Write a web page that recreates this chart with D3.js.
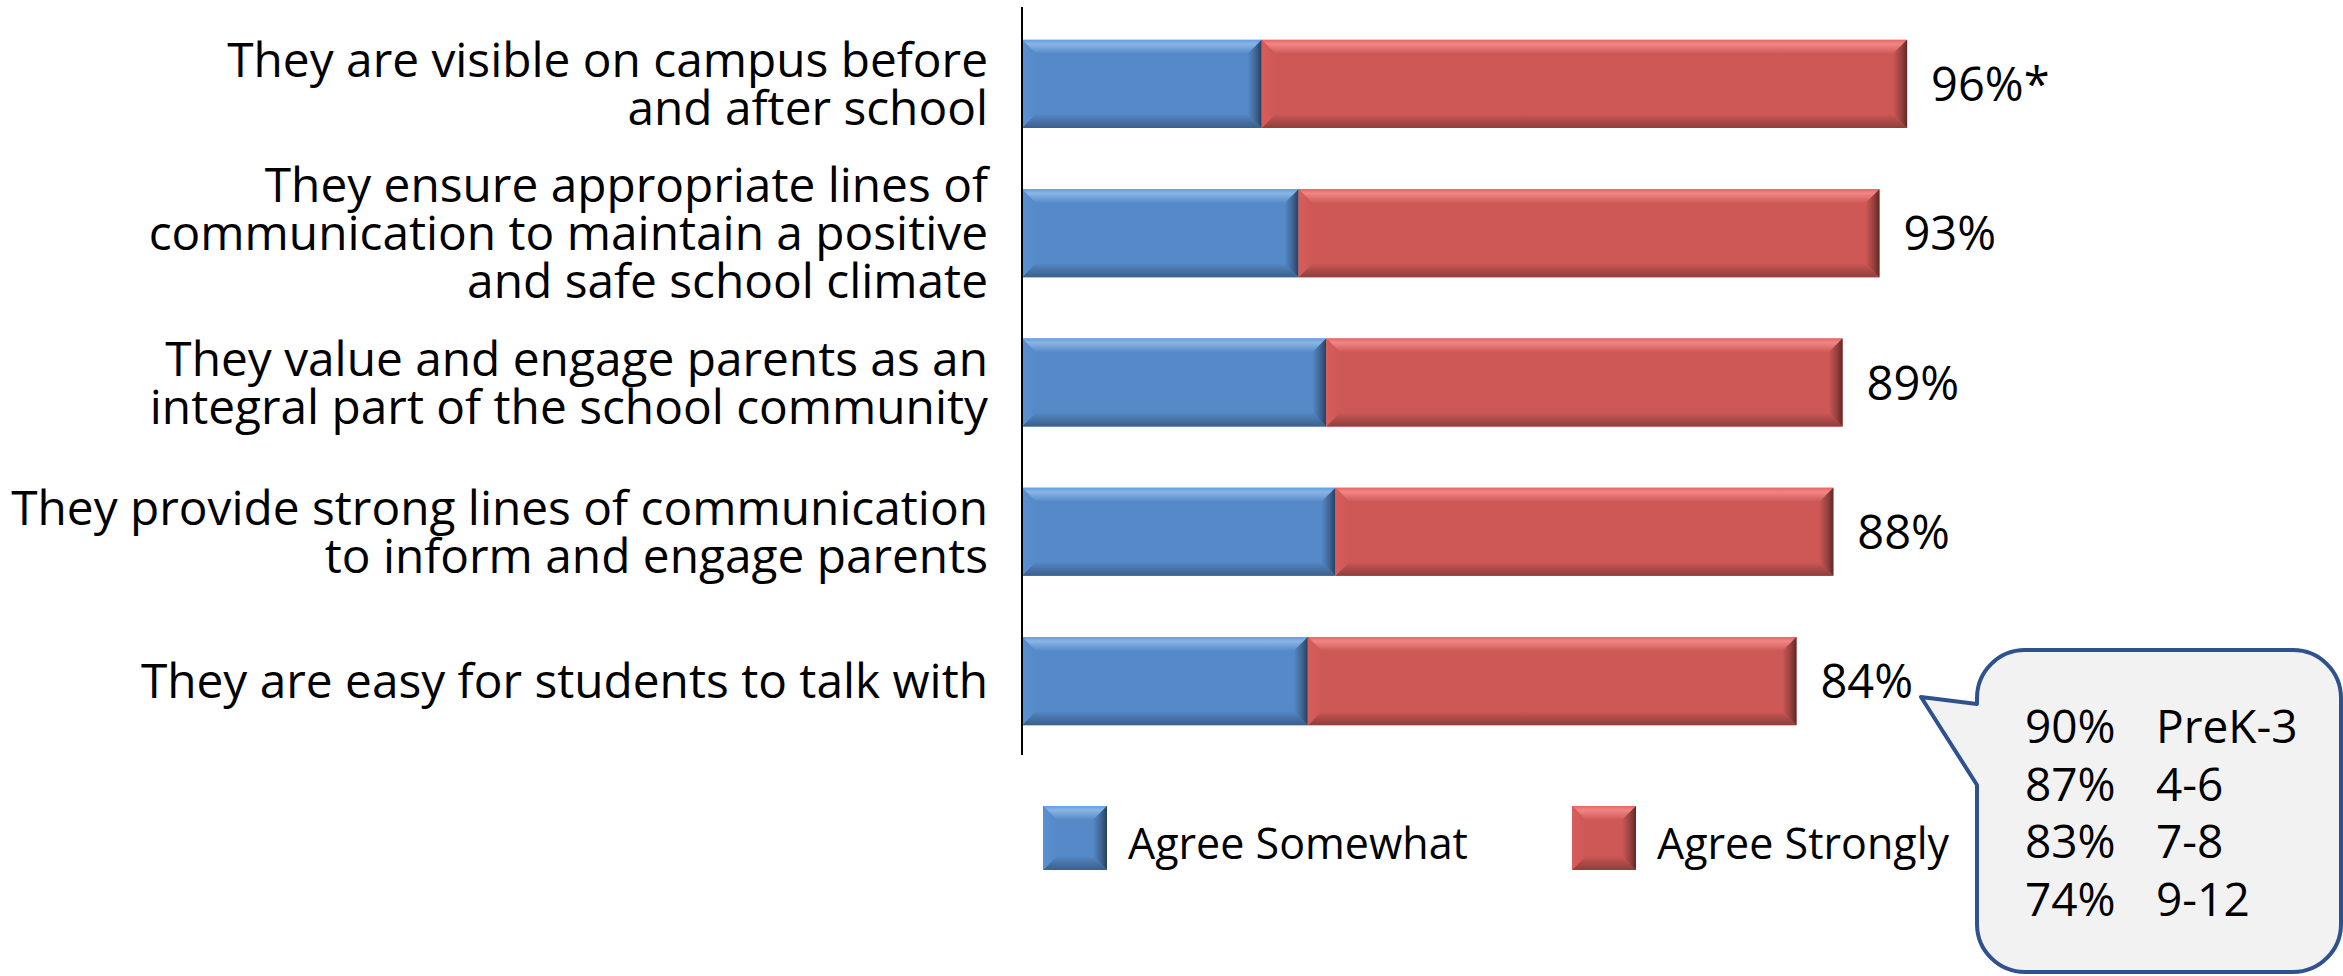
<!DOCTYPE html>
<html>
<head>
<meta charset="utf-8">
<script src="https://cdn.jsdelivr.net/npm/d3@7"></script>
<style>
  html, body { margin: 0; padding: 0; background: #ffffff; }
  svg { display: block; }
  text { font-family: "Open Sans", "Noto Sans", sans-serif; fill: #000000; }
</style>
</head>
<body>
<svg id="chart" width="2343" height="976"></svg>
<script>
// Survey statements (each entry is one label, split into its printed lines)
const categories = [
  ["They are visible on campus before", "and after school"],
  ["They ensure appropriate lines of", "communication to maintain a positive", "and safe school climate"],
  ["They value and engage parents as an", "integral part of the school community"],
  ["They provide strong lines of communication", "to inform and engage parents"],
  ["They are easy for students to talk with"]
];
// Percent of respondents in each agreement level
const agreeSomewhat = [26, 30, 33, 34, 31];
const agreeStrongly = [70, 63, 56, 54, 53];
const totalLabels = ["96%*", "93%", "89%", "88%", "84%"];
const seriesNames = ["Agree Somewhat", "Agree Strongly"];
// Breakdown of the last statement by grade band
const gradeShares = ["90%", "87%", "83%", "74%"];
const gradeBands = ["PreK-3", "4-6", "7-8", "9-12"];

const svg = d3.select("#chart");
const defs = svg.append("defs");
const keys = categories.map(d => d.join(" "));

const x = d3.scaleLinear().domain([0, 100]).range([1022, 1944]);
const y = d3.scaleBand().domain(keys).range([10, 755]).paddingInner(0.41).paddingOuter(0.2);
const color = d3.scaleOrdinal().domain(seriesNames).range(["#5589c8", "#cd5856"]);

// Bevel gradients per series colour
seriesNames.forEach((name, i) => {
  const c = d3.color(color(name));
  const mk = (id, x2, y2, stops) => {
    const g = defs.append("linearGradient").attr("id", id)
      .attr("x1", 0).attr("y1", 0).attr("x2", x2).attr("y2", y2);
    stops.forEach(s => g.append("stop").attr("offset", s[0]).attr("stop-color", s[1]));
  };
  const light = d3.interpolateRgb(c, "#bfe0ff");
  mk(`top${i}`, 0, 1, [[0, c.brighter(0.4)], [0.3, i ? d3.interpolateRgb(c, "#ff9a98")(0.7) : light(0.5)], [1, c]]);
  mk(`bot${i}`, 0, 1, [[0, c], [0.5, c.darker(0.5)], [1, c.darker(1.0)]]);
  mk(`lft${i}`, 1, 0, [[0, c.brighter(0.15)], [1, c]]);
  mk(`rgt${i}`, 1, 0, [[0, c], [0.6, c.darker(0.9)], [1, c.darker(2.2)]]);
});

function bevel(g, x0, y0, w, h, si) {
  const b = Math.min(14, w / 2, h / 2);
  const c = color(seriesNames[si]);
  g.append("rect").attr("x", x0).attr("y", y0).attr("width", w).attr("height", h).attr("fill", c);
  const poly = (pts, fill) => g.append("polygon").attr("points", pts.map(p => p.join(",")).join(" ")).attr("fill", fill);
  poly([[x0, y0], [x0 + w, y0], [x0 + w - b, y0 + b], [x0 + b, y0 + b]], `url(#top${si})`);
  poly([[x0, y0 + h], [x0 + b, y0 + h - b], [x0 + w - b, y0 + h - b], [x0 + w, y0 + h]], `url(#bot${si})`);
  poly([[x0, y0], [x0 + b, y0 + b], [x0 + b, y0 + h - b], [x0, y0 + h]], `url(#lft${si})`);
  poly([[x0 + w, y0], [x0 + w, y0 + h], [x0 + w - b, y0 + h - b], [x0 + w - b, y0 + b]], `url(#rgt${si})`);
}

// Stacked bars
const stackData = keys.map((k, i) => ({ key: k, s0: agreeSomewhat[i], s1: agreeStrongly[i] }));
const bars = svg.append("g").attr("class", "bars");
stackData.forEach(d => {
  const g = bars.append("g");
  bevel(g, x(0), y(d.key), x(d.s0) - x(0), y.bandwidth(), 0);
  bevel(g, x(d.s0), y(d.key), x(d.s0 + d.s1) - x(d.s0), y.bandwidth(), 1);
});

// Category axis line
svg.append("line").attr("x1", x(0)).attr("x2", x(0)).attr("y1", 7).attr("y2", 755)
  .attr("stroke", "#000").attr("stroke-width", 2);

// Category labels
const lineH = 48;
const labels = svg.append("g").attr("font-size", 47.8).attr("text-anchor", "end");
categories.forEach((lines, i) => {
  const cy = y(keys[i]) + y.bandwidth() / 2;
  lines.forEach((ln, j) => {
    labels.append("text").attr("x", 988)
      .attr("y", cy + (j - (lines.length - 1) / 2) * lineH + 17)
      .text(ln);
  });
});

// Total labels
svg.append("g").attr("font-size", 47).selectAll("text").data(stackData).join("text")
  .attr("x", (d) => x(d.s0 + d.s1) + 24)
  .attr("y", d => y(d.key) + y.bandwidth() / 2 + 17)
  .text((d, i) => totalLabels[i]);

// Legend
const legend = svg.append("g");
const legendX = [1043, 1572];
seriesNames.forEach((name, i) => {
  bevel(legend, legendX[i], 806, 64, 64, i);
  legend.append("text").attr("x", legendX[i] + 85).attr("y", 859)
    .attr("font-size", 43).text(name);
});

// Callout with grade-band breakdown
const call = svg.append("g");
const bx = 1977, by = 650, bw = 364, bh = 322, r = 48;
const tipX = 1921, tipY = 697;
const p = d3.path();
p.moveTo(bx + r, by);
p.lineTo(bx + bw - r, by);
p.arcTo(bx + bw, by, bx + bw, by + r, r);
p.lineTo(bx + bw, by + bh - r);
p.arcTo(bx + bw, by + bh, bx + bw - r, by + bh, r);
p.lineTo(bx + r, by + bh);
p.arcTo(bx, by + bh, bx, by + bh - r, r);
p.lineTo(bx, 785);
p.lineTo(tipX, tipY);
p.lineTo(bx, 704);
p.arcTo(bx, by, bx + r, by, r);
p.closePath();
call.append("path").attr("d", p.toString())
  .attr("fill", "#f2f2f2").attr("stroke", "#2f528f").attr("stroke-width", 4)
  .attr("stroke-linejoin", "round");
gradeShares.forEach((s, i) => {
  const yy = 743 + i * 57.5;
  call.append("text").attr("x", 2025).attr("y", yy).attr("font-size", 46).text(s);
  call.append("text").attr("x", 2156).attr("y", yy).attr("font-size", 46).text(gradeBands[i]);
});
</script>
</body>
</html>
